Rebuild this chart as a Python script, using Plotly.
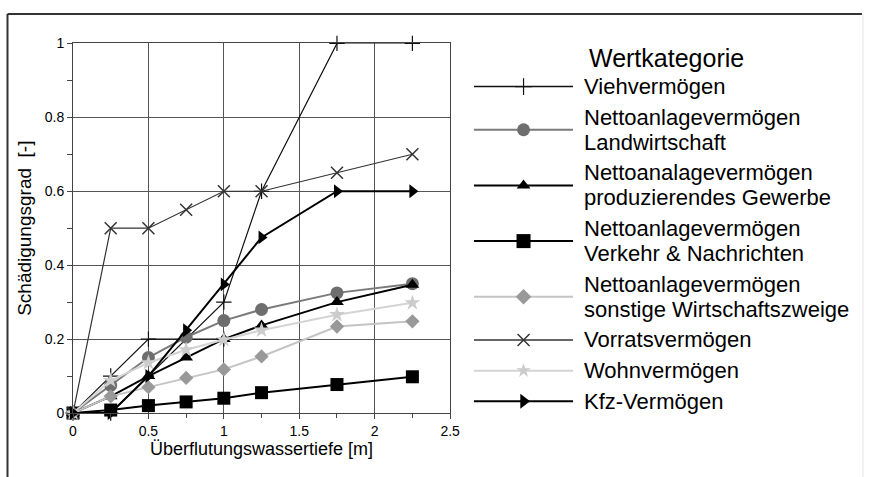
import plotly.graph_objects as go

# ---------------- data ----------------
depth = [0, 0.25, 0.5, 0.75, 1.0, 1.25, 1.75, 2.25]

vieh_x = [0, 0.25, 0.5, 1.0, None, 0.25, 1.0, 1.25, 1.75, 2.25]
vieh_y = [0, 0.10, 0.20, 0.20, None, 0.0, 0.30, 0.60, 1.00, 1.00]

landwirtschaft = [0, 0.075, 0.15, 0.205, 0.25, 0.28, 0.325, 0.35]
gewerbe = [0, 0.045, 0.10, 0.15, 0.20, 0.237, 0.30, 0.347]
verkehr = [0, 0.008, 0.02, 0.03, 0.04, 0.055, 0.077, 0.098]
sonstige = [0, 0.045, 0.07, 0.095, 0.118, 0.153, 0.234, 0.248]
vorrat = [0, 0.50, 0.50, 0.55, 0.60, 0.60, 0.65, 0.70]
wohn = [0, 0.088, 0.136, 0.171, 0.198, 0.224, 0.266, 0.298]
kfz = [0, 0.0, 0.10, 0.224, 0.348, 0.475, 0.60, 0.60]

names = [
    ["Viehvermögen"],
    ["Nettoanlagevermögen", "Landwirtschaft"],
    ["Nettoanalagevermögen", "produzierendes Gewerbe"],
    ["Nettoanlagevermögen", "Verkehr & Nachrichten"],
    ["Nettoanlagevermögen", "sonstige Wirtschaftszweige"],
    ["Vorratsvermögen"],
    ["Wohnvermögen"],
    ["Kfz-Vermögen"],
]
legend_title = "Wertkategorie"
x_title = "Überflutungswassertiefe [m]"
y_title = "Schädigungsgrad  [-]"

# ---------------- styles ----------------
styles = [
    dict(lc="#111111", lw=1.2, sym="cross-thin-open", ms=11, mc="#111111", mlw=1.2, lms=12),
    dict(lc="#7a7a7a", lw=2.0, sym="circle", ms=13, mc="#6e6e6e", mlw=0, lms=13),
    dict(lc="#000000", lw=2.0, sym="triangle-up", ms=12, mc="#000000", mlw=0, lms=12),
    dict(lc="#000000", lw=2.0, sym="square", ms=13, mc="#000000", mlw=0, lms=14),
    dict(lc="#c4c4c4", lw=2.0, sym="diamond", ms=11, mc="#999999", mlw=0, lms=12),
    dict(lc="#333333", lw=1.2, sym="x-thin-open", ms=12, mc="#333333", mlw=1.5, lms=12),
    dict(lc="#d4d4d4", lw=2.0, sym="star", ms=12, mc="#cccccc", mlw=0, lms=11),
    dict(lc="#000000", lw=2.0, sym="triangle-right", ms=12, mc="#000000", mlw=0, lms=13),
]

series = [
    (vieh_x, vieh_y),
    (depth, landwirtschaft),
    (depth, gewerbe),
    (depth, verkehr),
    (depth, sonstige),
    (depth, vorrat),
    (depth, wohn),
    (depth, kfz),
]

FONT = "Liberation Sans, Arial, sans-serif"
W, H = 871, 477
ML, MR, MT, MB = 73, 10, 6, 64
PW, PH = W - ML - MR, H - MT - MB


def px(x):
    return (x - ML) / PW


def py(y):
    return (H - MB - y) / PH


fig = go.Figure()

for (xs, ys), st, nm in zip(series, styles, names):
    fig.add_trace(go.Scatter(
        x=xs, y=ys, mode="lines+markers", name=" ".join(nm),
        connectgaps=False, showlegend=False, cliponaxis=False,
        line=dict(color=st["lc"], width=st["lw"]),
        marker=dict(symbol=st["sym"], size=st["ms"], color=st["mc"],
                    line=dict(color=st["mc"], width=st["mlw"])),
        xaxis="x", yaxis="y",
    ))

# ---------------- custom legend (samples on a hidden axis) ----------------
LINE_GAP = 25.5
ENTRY_GAP = 31.3
cursor = 80.0
annotations = []
for st, nm in zip(styles, names):
    ys_lines = [cursor + i * LINE_GAP for i in range(len(nm))]
    sym_y = sum(ys_lines) / len(ys_lines)
    fig.add_trace(go.Scatter(
        x=[0, 0.5, 1], y=[sym_y] * 3, mode="lines+markers", showlegend=False,
        hoverinfo="skip", cliponaxis=False,
        line=dict(color=st["lc"], width=max(st["lw"], 1.6)),
        marker=dict(symbol=st["sym"], size=st["lms"], color=st["mc"],
                    opacity=[0, 1, 0],
                    line=dict(color=st["mc"], width=st["mlw"])),
        xaxis="x2", yaxis="y2",
    ))
    for t, yy in zip(nm, ys_lines):
        annotations.append(dict(
            text=t, x=px(586), y=py(yy), xref="paper", yref="paper",
            xanchor="left", yanchor="middle", showarrow=False,
            font=dict(family=FONT, size=22, color="#000000")))
    cursor = ys_lines[-1] + ENTRY_GAP

annotations.append(dict(
    text=legend_title, x=px(671), y=py(51), xref="paper", yref="paper",
    xanchor="center", yanchor="middle", showarrow=False,
    font=dict(family=FONT, size=25, color="#000000")))

shapes = [
    dict(type="line", xref="paper", yref="paper", x0=px(7), x1=px(7),
         y0=py(6), y1=py(480), line=dict(color="#333333", width=2)),
    dict(type="line", xref="paper", yref="paper", x0=px(7), x1=px(868),
         y0=py(6), y1=py(6), line=dict(color="#333333", width=2)),
    dict(type="line", xref="paper", yref="paper", x0=px(869), x1=px(869),
         y0=py(6), y1=py(480), line=dict(color="#e6e6e6", width=1)),
]

axis_common = dict(
    showgrid=True, gridcolor="#555555", gridwidth=1,
    showline=True, mirror=True, linecolor="#444444", linewidth=1,
    ticks="outside", ticklen=5, tickcolor="#444444", tickwidth=1,
    zeroline=False, fixedrange=True,
    tickfont=dict(family=FONT, size=14, color="#000000"),
)

fig.update_layout(
    width=W, height=H, autosize=False,
    margin=dict(l=ML, r=MR, t=MT, b=MB, pad=0),
    paper_bgcolor="white", plot_bgcolor="white",
    font=dict(family=FONT, color="#000000"),
    xaxis=dict(
        domain=[0, (453 - ML) / PW], range=[0, 2.5], dtick=0.5, tick0=0,
        minor=dict(dtick=0.25, ticks="outside", ticklen=4, tickcolor="#444444", showgrid=False),
        title=dict(text=x_title, font=dict(family=FONT, size=18), standoff=2),
        anchor="y", **axis_common),
    yaxis=dict(
        domain=[0, (H - MB - 36) / PH], range=[0, 1], dtick=0.2, tick0=0,
        minor=dict(dtick=0.1, ticks="outside", ticklen=5, tickcolor="#444444", showgrid=False),
        title=dict(text=y_title, font=dict(family=FONT, size=19), standoff=8),
        anchor="x", **axis_common),
    xaxis2=dict(domain=[px(477), px(577)], range=[0, 1], visible=False,
                anchor="y2", fixedrange=True),
    yaxis2=dict(domain=[0, 1], range=[H - MB, MT], visible=False,
                anchor="x2", fixedrange=True),
    annotations=annotations,
    shapes=shapes,
    showlegend=False,
)

fig.write_html("out.html")
